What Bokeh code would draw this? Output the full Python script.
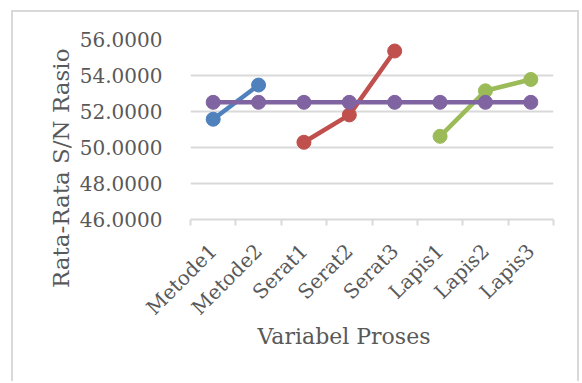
import math

from bokeh.embed import file_html
from bokeh.models import FixedTicker, NumeralTickFormatter, Range1d, Title
from bokeh.plotting import figure
from bokeh.resources import INLINE

# Process variables on the x axis
categories = ["Metode1", "Metode2", "Serat1", "Serat2", "Serat3", "Lapis1", "Lapis2", "Lapis3"]

# Mean S/N ratio per factor level
metode_cats = ["Metode1", "Metode2"]
metode_sn = [51.57, 53.47]

serat_cats = ["Serat1", "Serat2", "Serat3"]
serat_sn = [50.29, 51.81, 55.36]

lapis_cats = ["Lapis1", "Lapis2", "Lapis3"]
lapis_sn = [50.62, 53.15, 53.78]

# Overall mean S/N ratio, drawn across every level
overall_sn = [52.51, 52.51, 52.51, 52.51, 52.51, 52.51, 52.51, 52.51]

y_ticks = [46, 48, 50, 52, 54, 56]

FONT = "DejaVu Serif"
TEXT = "#595959"
GRID = "#d9d9d9"

pos = {c: i for i, c in enumerate(categories)}

p = figure(
    width=568, height=371,
    x_range=Range1d(-0.5, len(categories) - 0.5),
    y_range=Range1d(46, 56),
    output_backend="svg", toolbar_location=None,
    min_border_left=177, min_border_right=28,
    min_border_top=27, min_border_bottom=164,
)
p.margin = (10, 0, 0, 11)
p.styles = {
    "border-left": f"2px solid {GRID}",
    "border-top": f"2px solid {GRID}",
    "border-right": f"2px solid {GRID}",
}
p.outline_line_color = None
p.background_fill_color = "white"
p.border_fill_color = "white"

# x axis: labels at level centres, tick marks between levels
xa = p.xaxis[0]
xa.ticker = FixedTicker(
    ticks=list(range(len(categories))),
    minor_ticks=[i - 0.5 for i in range(len(categories) + 1)],
)
xa.major_label_overrides = {i: c for i, c in enumerate(categories)}
xa.major_label_orientation = math.pi / 4
xa.major_tick_in = 0
xa.major_tick_out = 0
xa.minor_tick_in = 0
xa.minor_tick_out = 6
xa.minor_tick_line_color = GRID
xa.minor_tick_line_width = 2
xa.axis_line_color = GRID
xa.axis_line_width = 2
xa.major_label_text_font = FONT
xa.major_label_text_font_size = "20px"
xa.major_label_text_color = TEXT
xa.major_label_standoff = 22

# y axis
ya = p.yaxis[0]
ya.ticker = FixedTicker(ticks=y_ticks)
ya.formatter = NumeralTickFormatter(format="0.0000")
ya.axis_line_color = None
ya.major_tick_line_color = None
ya.minor_tick_line_color = None
ya.major_label_standoff = 22
ya.major_label_text_font = FONT
ya.major_label_text_font_size = "20px"
ya.major_label_text_color = TEXT

p.xgrid.grid_line_color = None
p.ygrid.ticker = FixedTicker(ticks=y_ticks)
p.ygrid.grid_line_color = GRID
p.ygrid.grid_line_width = 2

series = [
    (metode_cats, metode_sn, "#4f81bd"),
    (serat_cats, serat_sn, "#c0504d"),
    (lapis_cats, lapis_sn, "#9bbb59"),
    (categories, overall_sn, "#8064a2"),
]
for cats, vals, color in series:
    xs = [pos[c] for c in cats]
    p.line(xs, vals, line_width=4.5, line_color=color, line_join="round")
    p.scatter(xs, vals, size=14, fill_color=color, line_color=color)

# Axis titles
p.add_layout(Title(
    text="Rata-Rata S/N Rasio", align="right", offset=9, standoff=6,
    text_font=FONT, text_font_size="23px", text_font_style="normal", text_color=TEXT,
), "left")
p.add_layout(Title(
    text="Variabel Proses", align="left", offset=67, standoff=-18,
    text_font=FONT, text_font_size="22px", text_font_style="normal", text_color=TEXT,
), "below")

open("out.html", "w").write(file_html(p, INLINE))
